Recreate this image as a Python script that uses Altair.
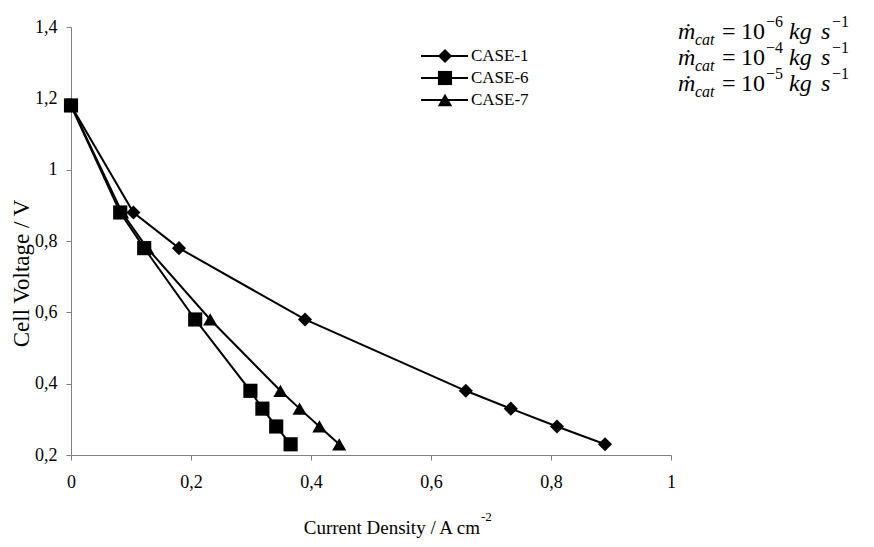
import altair as alt
import pandas as pd

# ---------------- data ----------------
SERIES = ["CASE-1", "CASE-6", "CASE-7"]
SHAPES = ["diamond", "square", "triangle-up"]
VOLTAGE = [1.18, 0.88, 0.78, 0.58, 0.38, 0.33, 0.28, 0.23]
CASE1_CURRENT = [0.0, 0.104, 0.180, 0.390, 0.658, 0.733, 0.810, 0.890]
CASE6_CURRENT = [0.0, 0.082, 0.122, 0.207, 0.299, 0.319, 0.342, 0.366]
CASE7_CURRENT = [0.0, 0.085, 0.127, 0.232, 0.349, 0.381, 0.414, 0.447]
X_TICKS = [0, 0.2, 0.4, 0.6, 0.8, 1.0]
Y_TICKS = [0.2, 0.4, 0.6, 0.8, 1.0, 1.2, 1.4]
ANNOT_EXP = ["\u22126", "\u22124", "\u22125"]

rows = []
for name, xs in zip(SERIES, [CASE1_CURRENT, CASE6_CURRENT, CASE7_CURRENT]):
    for x, y in zip(xs, VOLTAGE):
        rows.append({"series": name, "current": x, "voltage": y})
df = pd.DataFrame(rows)
one = pd.DataFrame({"k": [0]})

FONT = "Liberation Serif"
W, H = 600, 428
AXIS_GREY = "#808080"
MARK_SIZES = [200, 200, 210]
label_expr = "replace(format(datum.value, '~g'), '.', ',')"

x_enc = alt.X(
    "current:Q",
    scale=alt.Scale(domain=[0, 1], nice=False, zero=False),
    axis=alt.Axis(values=X_TICKS, title=None, labelExpr=label_expr,
                  labelPadding=13, labelFlush=False),
)
y_enc = alt.Y(
    "voltage:Q",
    scale=alt.Scale(domain=[0.2, 1.4], nice=False, zero=False),
    axis=alt.Axis(values=Y_TICKS, title="Cell Voltage / V", labelExpr=label_expr,
                  labelPadding=9, labelFlush=False, titleX=-50, titleY=246,
                  titleBaseline="middle", titleAlign="center",
                  titleAngle=-90, titleFontSize=23, titleFont=FONT,
                  titleFontWeight="normal"),
)

base = alt.Chart(df)
lines = base.mark_line(color="black", strokeWidth=2).encode(
    x=x_enc, y=y_enc, detail="series:N", order="current:Q"
)
points = base.mark_point(filled=True, color="black", opacity=1).encode(
    x="current:Q", y="voltage:Q",
    shape=alt.Shape("series:N", scale=alt.Scale(domain=SERIES, range=SHAPES), legend=None),
    size=alt.Size("series:N", scale=alt.Scale(domain=SERIES, range=MARK_SIZES), legend=None),
)

layers = [lines, points]

# ---------------- legend (drawn by hand) ----------------
leg_x1, leg_x2, leg_xm, leg_xt = 350, 397, 374, 400
leg_y0, leg_dy = 29, 22
for i, (name, shp) in enumerate(zip(SERIES, SHAPES)):
    yy = leg_y0 + i * leg_dy
    layers.append(alt.Chart(one).mark_rule(color="black", strokeWidth=2).encode(
        x=alt.value(leg_x1), x2=alt.value(leg_x2), y=alt.value(yy)))
    layers.append(alt.Chart(one).mark_point(filled=True, color="black", opacity=1,
                                             shape=shp, size=MARK_SIZES[i]).encode(
        x=alt.value(leg_xm), y=alt.value(yy)))
    layers.append(alt.Chart(one).mark_text(text=name, font=FONT, fontSize=17, align="left",
                                            baseline="middle", color="black").encode(
        x=alt.value(leg_xt), y=alt.value(yy)))

# ---------------- annotations (m_dot_cat = 10^-n kg s^-1) ----------------
def txt(t, x, y, size, italic=False, align="left", font=FONT):
    return alt.Chart(one).mark_text(
        text=t, font=font, fontSize=size, fontStyle="italic" if italic else "normal",
        align=align, baseline="alphabetic", color="black").encode(
        x=alt.value(x), y=alt.value(y))

OX, OY = 71, 27  # page position of plot origin
ann_base = [39, 65, 91]
for exp, b in zip(ANNOT_EXP, ann_base):
    yb = b - OY
    layers += [
        txt("\u1e41", 678 - OX, yb, 24, italic=True,
            font="Liberation Serif, DejaVu Serif"),
        txt("cat", 695 - OX, yb + 6, 16, italic=True),
        txt("=", 722 - OX, yb, 24),
        txt("10", 741 - OX, yb, 24),
        txt(exp, 766 - OX, yb - 12, 16),
        txt("kg", 789 - OX, yb, 24, italic=True),
        txt("s", 821 - OX, yb, 24, italic=True),
        txt("\u22121", 832 - OX, yb - 12, 16),
    ]

# ---------------- x title with superscript ----------------
layers += [
    txt("Current Density / A cm", 480 - OX, 534 - OY, 19, align="right"),
    txt("-2", 481 - OX, 521 - OY, 13),
]

chart = alt.layer(*layers).properties(
    width=W, height=H,
    autosize=alt.AutoSizeParams(type="none"),
    padding={"left": 63, "top": 19, "right": 190, "bottom": 83},
).configure_axis(
    grid=False, domainColor=AXIS_GREY, tickColor=AXIS_GREY, domainWidth=1,
    tickWidth=1, tickSize=5, labelFont=FONT, labelFontSize=18, labelColor="black",
    titleColor="black",
).configure_view(stroke=None)

chart.save("out.html", embed_options={"renderer": "svg", "actions": False})
